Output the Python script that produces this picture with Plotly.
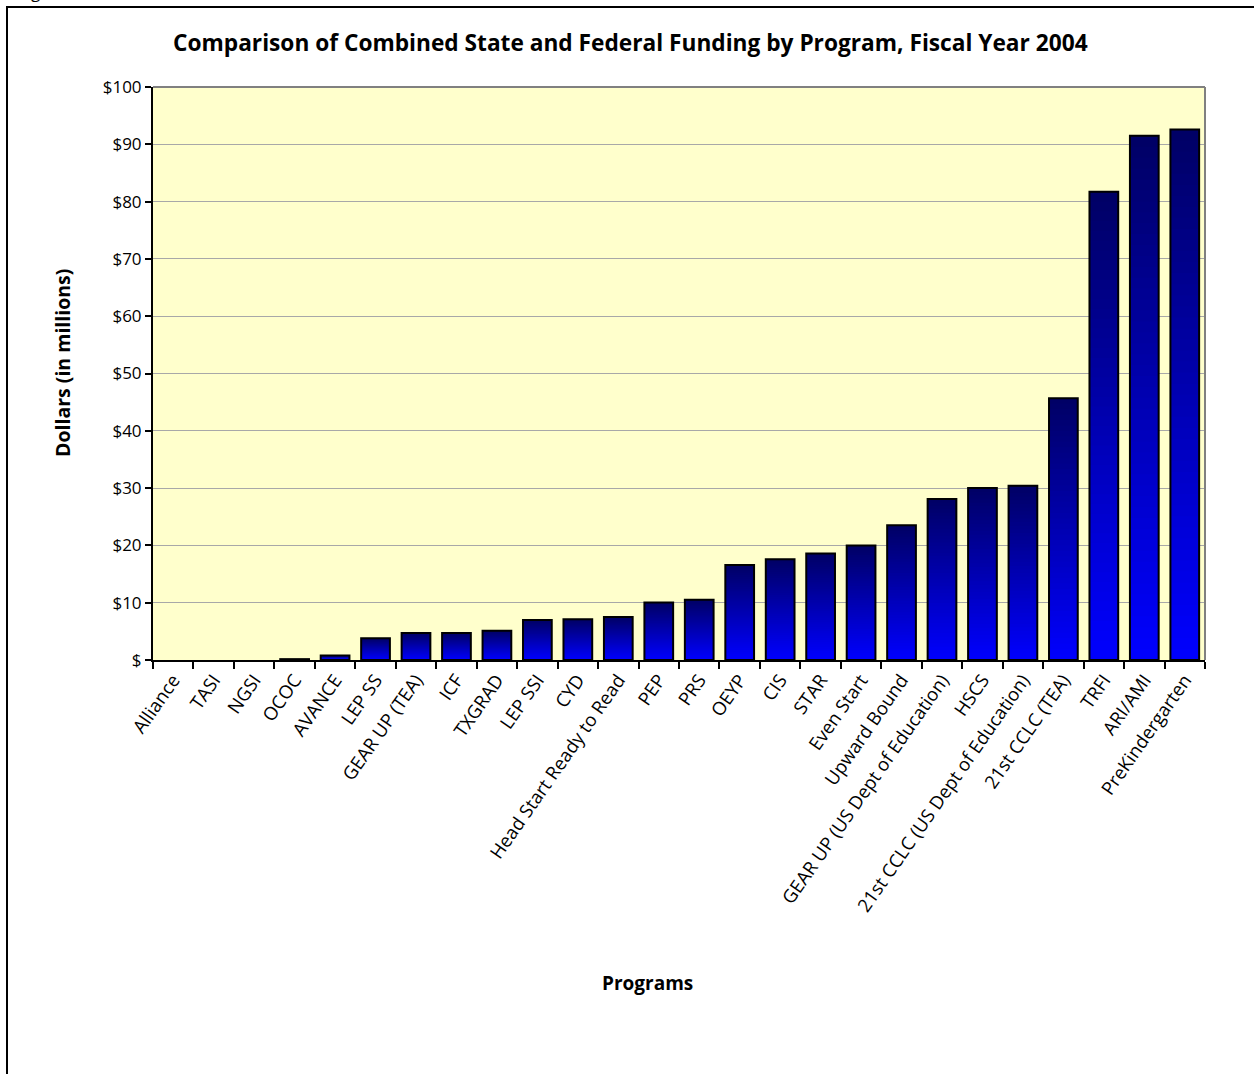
import plotly.graph_objects as go

programs = ["Alliance", "TASI", "NGSI", "OCOC", "AVANCE", "LEP SS", "GEAR UP (TEA)", "ICF",
            "TXGRAD", "LEP SSI", "CYD", "Head Start Ready to Read", "PEP", "PRS", "OEYP", "CIS",
            "STAR", "Even Start", "Upward Bound", "GEAR UP (US Dept of Education)", "HSCS",
            "21st CCLC (US Dept of Education)", "21st CCLC (TEA)", "TRFI", "ARI/AMI", "PreKindergarten"]
funding = [0.0, 0.0, 0.0, 0.15, 0.8, 3.8, 4.7, 4.7,
           5.1, 7.0, 7.1, 7.5, 10.05, 10.5, 16.6, 17.6,
           18.6, 20.0, 23.5, 28.1, 30.0, 30.4, 45.7, 81.7, 91.5, 92.6]
y_ticks = [0, 10, 20, 30, 40, 50, 60, 70, 80, 90, 100]
y_tick_labels = ["$", "$10", "$20", "$30", "$40", "$50", "$60", "$70", "$80", "$90", "$100"]

W, H = 1254, 1074
L, R, T, B = 153, 1205, 87, 660
PW, PH = R - L, B - T

def px(x):
    return (x - L) / PW

def py(y):
    return (B - y) / PH

FONT = "Open Sans"
fig = go.Figure()

# gradient bars: nested bars from full height down, each shorter one drawn on top
N = 48
top_c = (0, 0, 100)
bot_c = (0, 0, 255)
for k in range(N):
    frac = (N - k) / N
    t = (N - k - 0.5) / N  # 1 near top
    c = tuple(round(bot_c[i] + (top_c[i] - bot_c[i]) * t) for i in range(3))
    fig.add_trace(go.Bar(
        x=programs, y=[v * frac if v > 0 else None for v in funding],
        marker=dict(color="rgb(%d,%d,%d)" % c, line=dict(width=0)),
        hoverinfo="skip", showlegend=False))
# outline
fig.add_trace(go.Bar(
    x=programs, y=[v if v > 0 else None for v in funding],
    marker=dict(color="rgba(0,0,0,0)", line=dict(color="black", width=2)),
    showlegend=False, hovertemplate="%{x}: $%{y}M<extra></extra>"))

fig.update_layout(
    width=W, height=H,
    margin=dict(l=L, r=W - R, t=T, b=H - B),
    barmode="overlay", bargap=0.29,
    plot_bgcolor="#FFFFCC", paper_bgcolor="white",
    font=dict(family=FONT, color="black", size=17),
    showlegend=False,
)
fig.update_xaxes(
    type="category", tickangle=-55, tickson="boundaries", automargin=False,
    ticks="outside", ticklen=7, tickwidth=2, tickcolor="black",
    showline=True, linecolor="black", linewidth=2,
    showgrid=False, tickfont=dict(family=FONT, size=18.5, color="black"),
)
fig.update_yaxes(
    range=[0, 100], tickvals=y_ticks, ticktext=y_tick_labels, automargin=False,
    ticks="outside", ticklen=6, tickwidth=2, tickcolor="black",
    showline=True, linecolor="black", linewidth=2,
    showgrid=True, gridcolor="#A8A8A8", gridwidth=1,
    tickfont=dict(family=FONT, size=17, color="black"), zeroline=False,
)

shapes = [
    dict(type="line", xref="paper", yref="paper", x0=0, x1=1, y0=1, y1=1,
         line=dict(color="#808080", width=2)),
    dict(type="line", xref="paper", yref="paper", x0=1, x1=1, y0=0, y1=1,
         line=dict(color="#808080", width=2)),
    dict(type="rect", xref="paper", yref="paper", x0=px(7), x1=px(1270), y0=py(1090), y1=py(7),
         line=dict(color="black", width=2), fillcolor="rgba(0,0,0,0)", layer="below"),
]
fig.update_layout(shapes=shapes)

annotations = [
    dict(text="<b>Comparison of Combined State and Federal Funding by Program, Fiscal Year 2004</b>",
         xref="paper", yref="paper", x=px(630), y=py(42), xanchor="center", yanchor="middle",
         showarrow=False, font=dict(family=FONT, size=22.7, color="black")),
    dict(text="<b>Dollars (in millions)</b>", xref="paper", yref="paper",
         x=px(62), y=py(363), xanchor="center", yanchor="middle", textangle=-90,
         showarrow=False, font=dict(family=FONT, size=19.5, color="black")),
    dict(text="<b>Programs</b>", xref="paper", yref="paper",
         x=px(647), y=py(983), xanchor="center", yanchor="middle",
         showarrow=False, font=dict(family=FONT, size=19, color="black")),
    dict(text="Figure 7", xref="paper", yref="paper",
         x=px(16), y=py(5), xanchor="left", yanchor="bottom",
         showarrow=False, font=dict(family=FONT, size=17, color="black")),
]
fig.update_layout(annotations=annotations)

fig.write_html("out.html")
